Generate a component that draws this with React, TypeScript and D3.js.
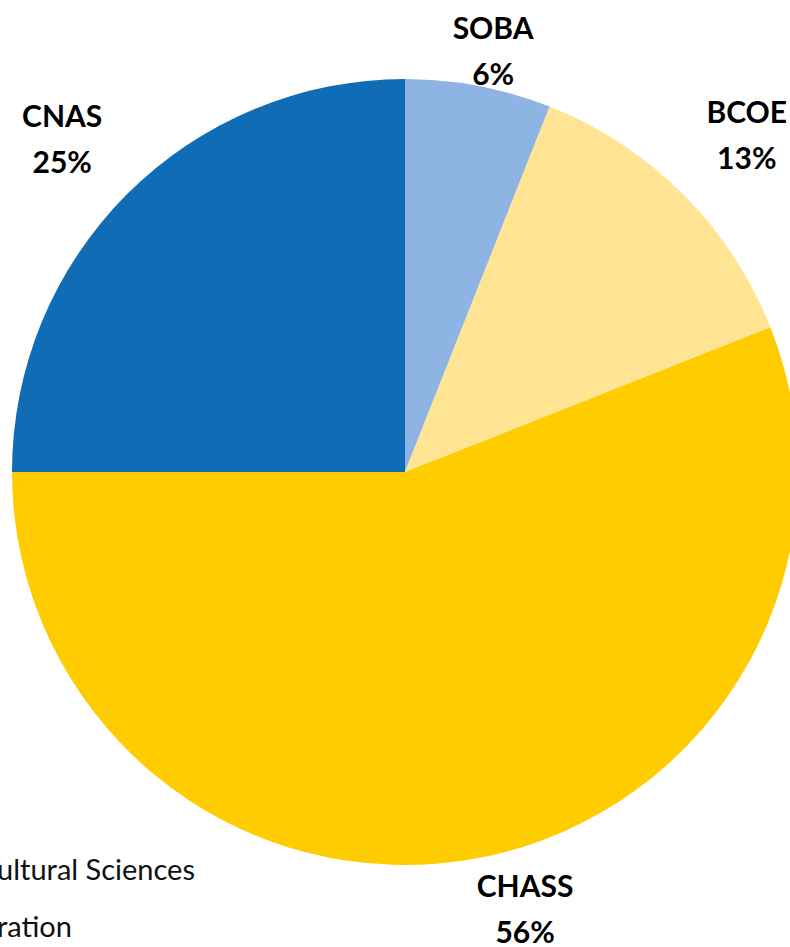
import React from "react";
import * as d3 from "d3";

const categories = ["SOBA", "BCOE", "CHASS", "CNAS"];
const shares = [6, 13, 56, 25];
const legendTexts = [
  "College of Natural and Agricultural Sciences",
  "School of Business Administration",
];

const W = 790;
const H = 947;
const CX = 405;
const CY = 472;
const R = 393;
const LABEL_R = 465;
const FONT = "Lato, 'Open Sans', 'DejaVu Sans', sans-serif";

const fills: Record<string, string> = {
  SOBA: "#8DB4E2",
  BCOE: "url(#bcoeGrad)",
  CHASS: "#FFCC00",
  CNAS: "#106CB5",
};

// layout nudges for Excel's "best fit" label placement
const labelNudge: Record<string, [number, number]> = {
  SOBA: [1, 0],
  BCOE: [13, 3],
  CHASS: [33, -9],
  CNAS: [-14, 7],
};

export default function App() {
  const data = categories.map((c, i) => ({ name: c, value: shares[i] }));
  const pie = d3
    .pie<{ name: string; value: number }>()
    .sort(null)
    .value((d) => d.value)
    .startAngle(0)
    .endAngle(2 * Math.PI);
  const arcs = pie(data);
  const arc = d3
    .arc<d3.PieArcDatum<{ name: string; value: number }>>()
    .innerRadius(0)
    .outerRadius(R);

  return (
    <svg
      width={W}
      height={H}
      style={{ position: "absolute", left: 0, top: 0, background: "#fff" }}
    >
      <defs>
        <linearGradient
          id="bcoeGrad"
          gradientUnits="userSpaceOnUse"
          x1={CX + 140}
          y1={CY - 380}
          x2={CX + 370}
          y2={CY - 130}
        >
          <stop offset="0" stopColor="#FFE593" />
          <stop offset="1" stopColor="#FFF4D2" />
        </linearGradient>
      </defs>
      <g fontFamily={FONT} fontSize={29} fill="#111">
        <text x={195} y={880} textAnchor="end">
          {legendTexts[0]}
        </text>
        <text x={72} y={937} textAnchor="end">
          {legendTexts[1]}
        </text>
      </g>
      <g transform={`translate(${CX},${CY})`}>
        {arcs.map((a) => (
          <path key={a.data.name} d={arc(a) || ""} fill={fills[a.data.name]} />
        ))}
      </g>
      <g fontFamily={FONT} fontWeight={700} fontSize={30} fill="#000" textAnchor="middle">
        {arcs.map((a) => {
          const mid = (a.startAngle + a.endAngle) / 2;
          let x = CX + LABEL_R * Math.sin(mid);
          let y = CY - LABEL_R * Math.cos(mid);
          y = Math.max(y, 62);
          const n = labelNudge[a.data.name] || [0, 0];
          x += n[0];
          y += n[1];
          return (
            <g key={a.data.name}>
              <text x={x} y={y - 23}>
                {a.data.name}
              </text>
              <text x={x} y={y + 23}>
                {a.data.value}%
              </text>
            </g>
          );
        })}
      </g>
    </svg>
  );
}
